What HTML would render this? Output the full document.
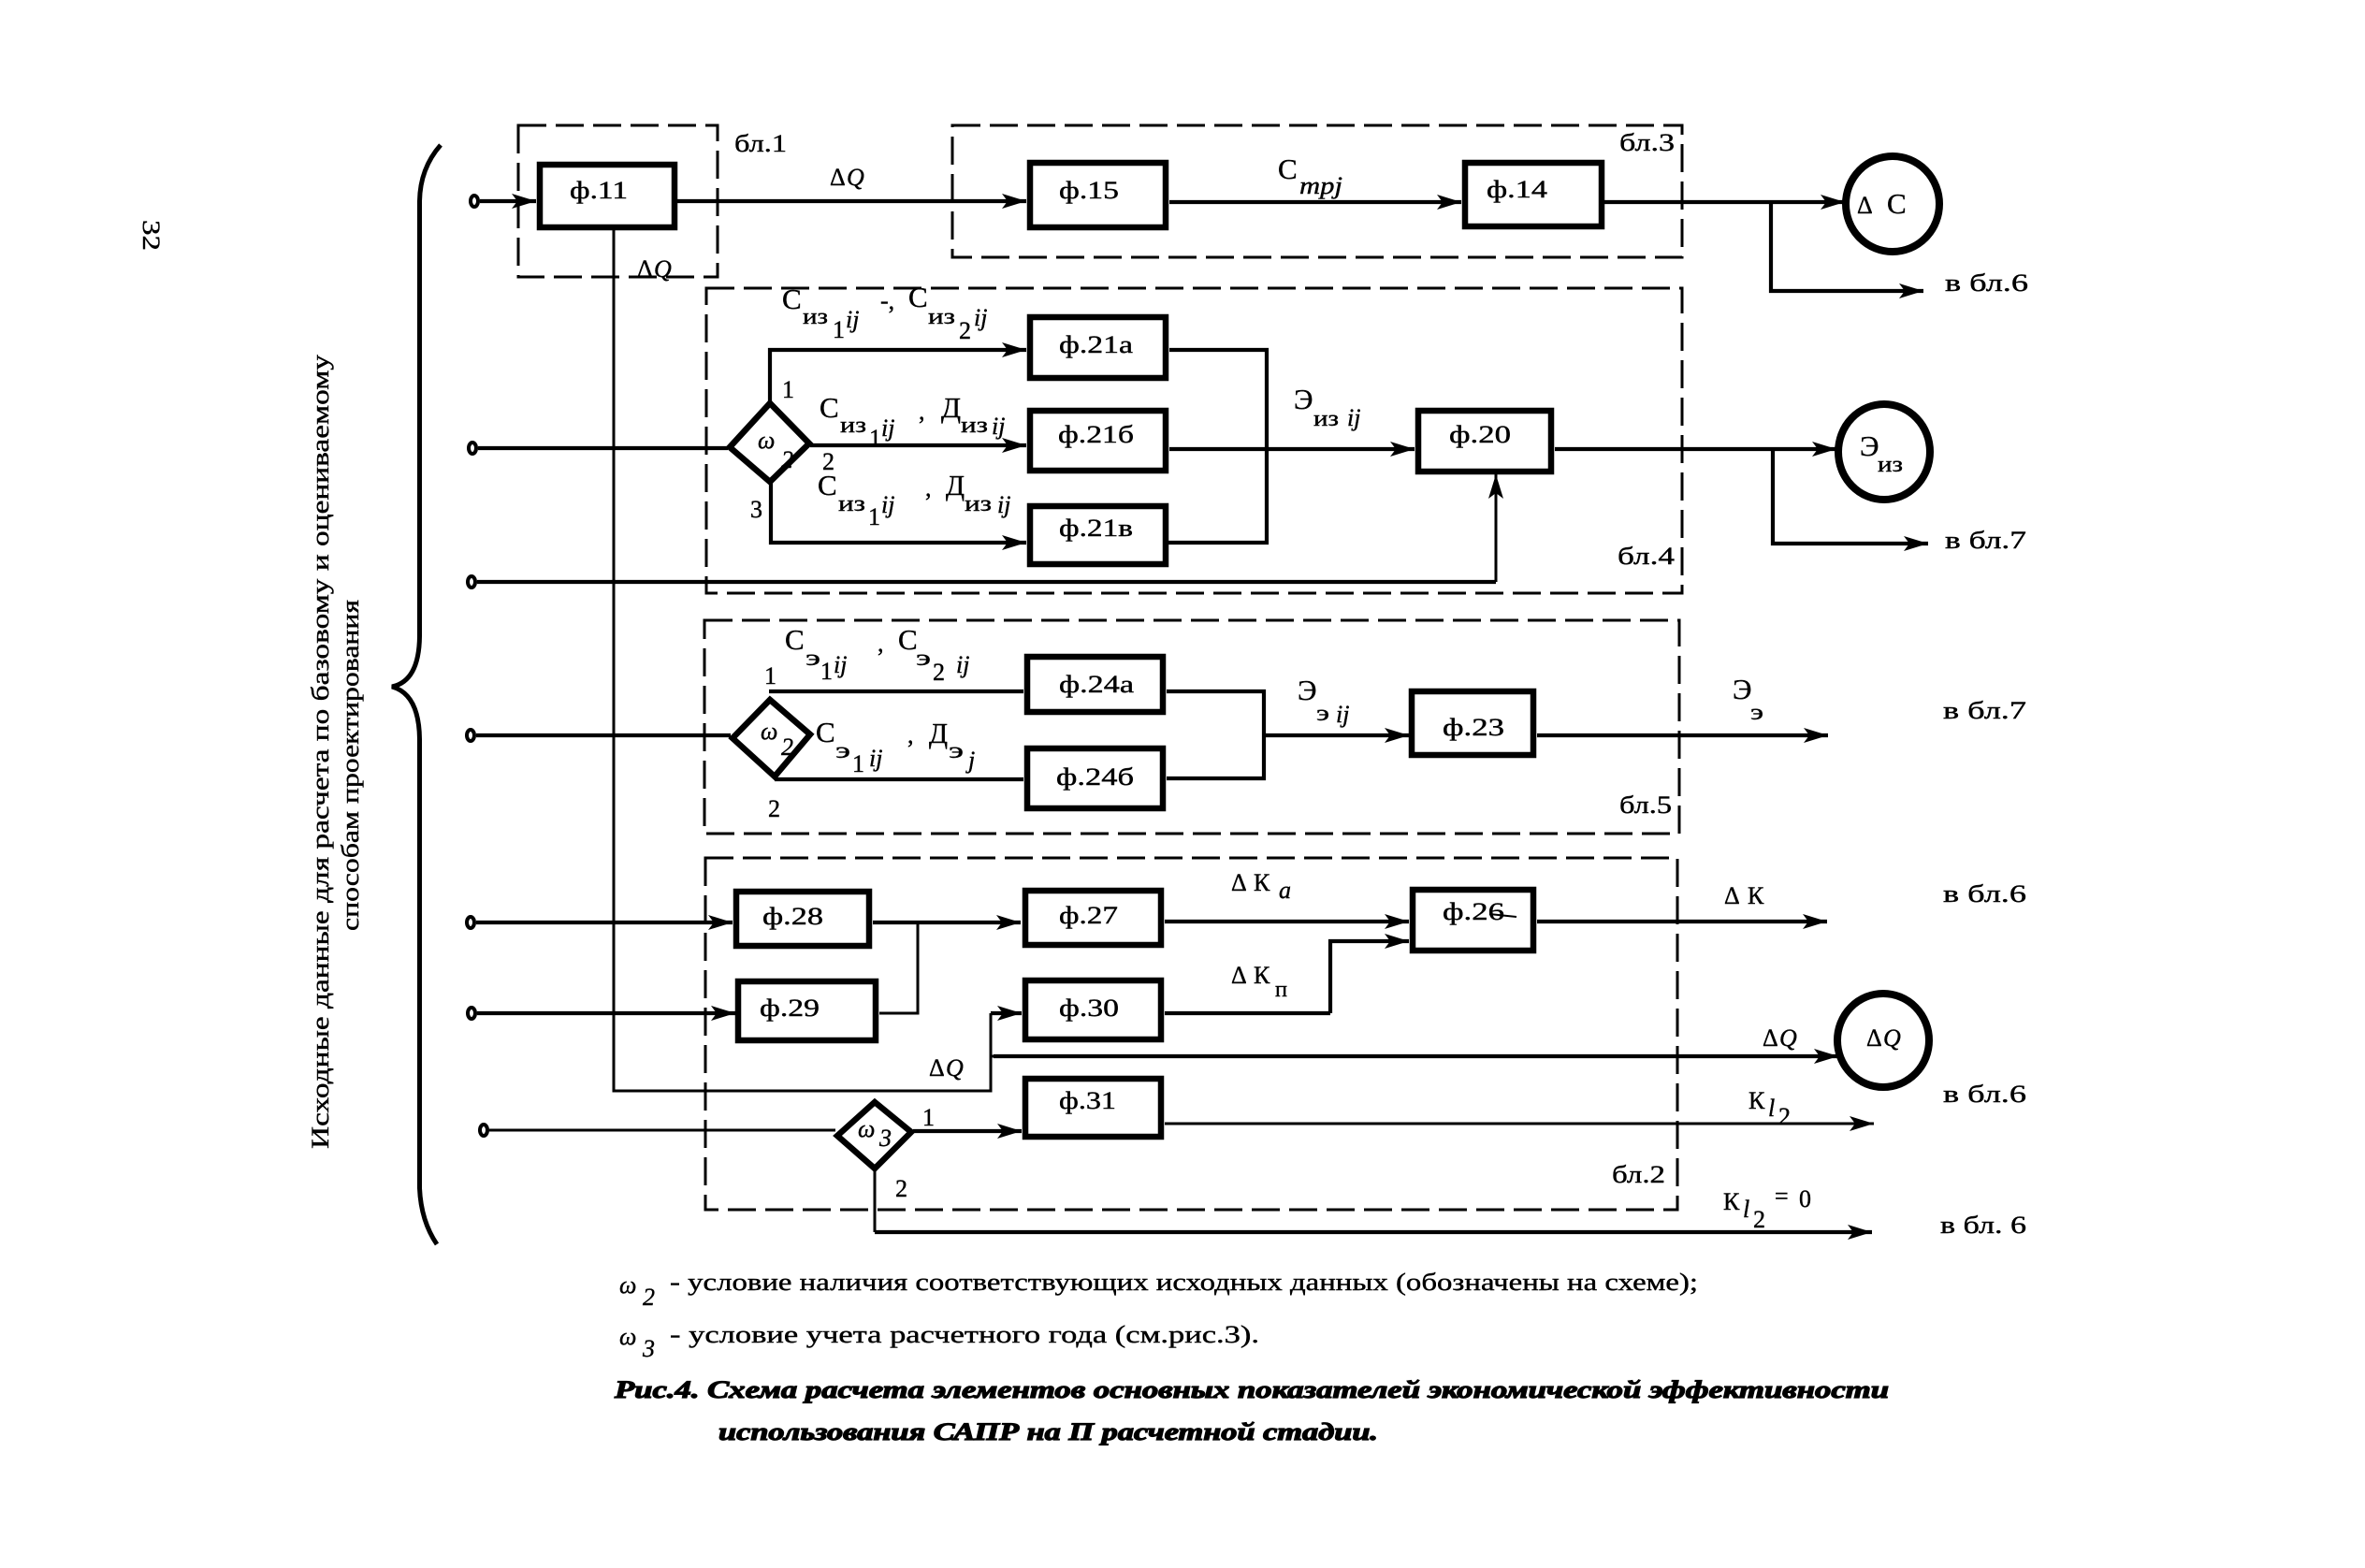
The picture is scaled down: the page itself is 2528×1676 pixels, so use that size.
<!DOCTYPE html>
<html><head><meta charset="utf-8"><style>
html,body{margin:0;padding:0;background:#fff}
svg{display:block}
text{font-family:"Liberation Serif","Noto Serif CJK SC",serif;fill:#000;font-size:26px;stroke:#000;stroke-width:.4}
.i{font-style:italic}
.s{font-size:24px}
.m{font-size:31px}
.d{fill:none;stroke:#000;stroke-width:3;stroke-dasharray:30 10}
.l{fill:none;stroke:#000;stroke-width:4.2}
.t{fill:none;stroke:#000;stroke-width:3}
.a{marker-end:url(#a)}
.b{fill:#fff;stroke:#000;stroke-width:6.5}
.c{fill:#fff;stroke:#000;stroke-width:8}
.p{fill:#fff;stroke:#000;stroke-width:4}
</style></head><body>
<svg width="2528" height="1676" viewBox="0 0 2528 1676" xmlns="http://www.w3.org/2000/svg">
<defs><marker id="a" markerWidth="30" markerHeight="20" refX="28" refY="10" orient="auto" markerUnits="userSpaceOnUse"><path d="M28 10 L2 2 L8 10 L2 18z" fill="#000"/></marker></defs>
<rect width="2528" height="1676" fill="#fff"/>

<!-- dashed blocks -->
<rect class="d" x="554" y="134" width="213" height="162"/>
<rect class="d" x="1018" y="134" width="780" height="141"/>
<rect class="d" x="755" y="308" width="1043" height="326"/>
<rect class="d" x="753" y="663" width="1042" height="228"/>
<rect class="d" x="754" y="917" width="1039" height="376"/>
<path class="t" d="M1226 471H1240M1234 465L1240 471L1234 477"/>

<!-- brace -->
<path d="M471 155Q449 180 448.500 215V680Q448 728 419 734Q448 742 448.500 790V1270Q450 1305 467 1330" fill="none" stroke="#000" stroke-width="5"/>

<!-- connectors -->
<path class="l a" d="M513 215H573"/>
<path class="l a" d="M724 215H1097"/>
<path class="l a" d="M1250 216H1562"/>
<path class="l a" d="M1715 216H1972"/>
<path class="l a" d="M1893 216V311H2056"/>
<path class="t" d="M656 246V1166H1059V1083"/>
<path class="l a" d="M1059 1083H1092"/>
<path class="t" d="M1059 1129H1200"/>
<path class="l a" d="M1062 1129H1965"/>

<path class="l" d="M511 479H778"/>
<path class="l a" d="M823 430V374H1097"/>
<path class="l a" d="M866 476H1097"/>
<path class="l a" d="M824 515V580H1097"/>
<path class="l" d="M1250 374H1354V580H1248"/>
<path class="l a" d="M1250 480H1512"/>
<path class="l a" d="M1662 480H1963"/>
<path class="l a" d="M1895 480V581H2061"/>
<path class="l" d="M510 622H1599"/>
<path class="t a" d="M1599 622V507"/>

<path class="l" d="M509 786H781"/>
<path class="l" d="M822 739H1094"/>
<path class="l" d="M828 833H1094"/>
<path class="l" d="M1247 739H1351V832H1247"/>
<path class="l a" d="M1351 786H1506"/>
<path class="l a" d="M1643 786H1954"/>

<path class="l a" d="M509 986H783"/>
<path class="l a" d="M510 1083H786"/>
<path class="l a" d="M933 986H1091"/>
<path class="t" d="M981 986V1083H940"/>
<path class="l a" d="M1245 985H1506"/>
<path class="l" d="M1245 1083H1422"/>
<path class="l a" d="M1422 1083V1006H1506"/>
<path class="l a" d="M1643 985H1953"/>
<path class="t a" d="M1245 1201H2003"/>
<path class="t" d="M523 1208H893"/>
<path class="l a" d="M976 1209H1092"/>
<path class="t" d="M935 1252V1317"/>
<path class="l a" d="M935 1317H2001"/>

<!-- inputs -->
<ellipse class="p" cx="507" cy="215" rx="4" ry="6"/>
<ellipse class="p" cx="505" cy="479" rx="4" ry="6"/>
<ellipse class="p" cx="504" cy="622" rx="4" ry="6"/>
<ellipse class="p" cx="503" cy="786" rx="4" ry="6"/>
<ellipse class="p" cx="503" cy="986" rx="4" ry="6"/>
<ellipse class="p" cx="504" cy="1083" rx="4" ry="6"/>
<ellipse class="p" cx="517" cy="1208" rx="4" ry="6"/>

<!-- boxes -->
<rect class="b" x="577" y="176" width="144" height="67"/>
<rect class="b" x="1101" y="174" width="145" height="69"/>
<rect class="b" x="1566" y="174" width="146" height="68"/>
<rect class="b" x="1101" y="339" width="145" height="65"/>
<rect class="b" x="1101" y="439" width="145" height="64"/>
<rect class="b" x="1101" y="541" width="145" height="62"/>
<rect class="b" x="1516" y="439" width="142" height="65"/>
<rect class="b" x="1098" y="702" width="145" height="59"/>
<rect class="b" x="1098" y="800" width="145" height="64"/>
<rect class="b" x="1509" y="739" width="130" height="68"/>
<rect class="b" x="787" y="953" width="142" height="58"/>
<rect class="b" x="789" y="1049" width="147" height="63"/>
<rect class="b" x="1096" y="952" width="145" height="58"/>
<rect class="b" x="1096" y="1048" width="145" height="63"/>
<rect class="b" x="1096" y="1153" width="145" height="62"/>
<rect class="b" x="1510" y="951" width="129" height="65"/>

<!-- diamonds -->
<polygon class="b" points="780,478 823,431 865,474 823,515"/>
<polygon class="b" points="783,789 823,748 866,785 828,830"/>
<polygon class="b" points="895,1214 935,1178 974,1210 935,1249"/>

<!-- circles -->
<ellipse class="c" cx="2023" cy="218" rx="50" ry="51"/>
<ellipse class="c" cx="2014" cy="483" rx="49" ry="51"/>
<ellipse class="c" cx="2013" cy="1112" rx="49" ry="50"/>

<path d="M1592 977L1621 980" fill="none" stroke="#000" stroke-width="2"/>

<!-- box labels -->
<text x="609" y="212" textLength="62" lengthAdjust="spacingAndGlyphs">ф.11</text>
<text x="1132" y="212" textLength="64" lengthAdjust="spacingAndGlyphs">ф.15</text>
<text x="1589" y="211" textLength="65" lengthAdjust="spacingAndGlyphs">ф.14</text>
<text x="1132" y="377" textLength="79" lengthAdjust="spacingAndGlyphs">ф.21а</text>
<text x="1131" y="473" textLength="81" lengthAdjust="spacingAndGlyphs">ф.21б</text>
<text x="1132" y="573" textLength="79" lengthAdjust="spacingAndGlyphs">ф.21в</text>
<text x="1549" y="473" textLength="66" lengthAdjust="spacingAndGlyphs">ф.20</text>
<text x="1132" y="740" textLength="80" lengthAdjust="spacingAndGlyphs">ф.24а</text>
<text x="1129" y="839" textLength="83" lengthAdjust="spacingAndGlyphs">ф.24б</text>
<text x="1542" y="786" textLength="66" lengthAdjust="spacingAndGlyphs">ф.23</text>
<text x="815" y="988" textLength="65" lengthAdjust="spacingAndGlyphs">ф.28</text>
<text x="812" y="1086" textLength="64" lengthAdjust="spacingAndGlyphs">ф.29</text>
<text x="1132" y="987" textLength="63" lengthAdjust="spacingAndGlyphs">ф.27</text>
<text x="1132" y="1086" textLength="64" lengthAdjust="spacingAndGlyphs">ф.30</text>
<text x="1132" y="1185" textLength="61" lengthAdjust="spacingAndGlyphs">ф.31</text>
<text x="1542" y="983" textLength="66" lengthAdjust="spacingAndGlyphs">ф.26</text>

<!-- block labels -->
<text x="785" y="162" textLength="56" lengthAdjust="spacingAndGlyphs">бл.1</text>
<text x="1731" y="161" textLength="59" lengthAdjust="spacingAndGlyphs">бл.3</text>
<text x="1729" y="603" textLength="61" lengthAdjust="spacingAndGlyphs">бл.4</text>
<text x="1731" y="869" textLength="56" lengthAdjust="spacingAndGlyphs">бл.5</text>
<text x="1723" y="1264" textLength="57" lengthAdjust="spacingAndGlyphs">бл.2</text>

<!-- delta Q -->
<text x="887" y="198" font-size="31">Δ</text><text class="i" x="905" y="198" font-size="31">Q</text>
<text x="681" y="296" font-size="31">Δ</text><text class="i" x="699" y="296" font-size="31">Q</text>
<text x="993" y="1150" font-size="31">Δ</text><text class="i" x="1011" y="1150" font-size="31">Q</text>
<text x="1884" y="1118" font-size="31">Δ</text><text class="i" x="1902" y="1118" font-size="31">Q</text>
<text x="1995" y="1118" font-size="31">Δ</text><text class="i" x="2013" y="1118" font-size="31">Q</text>

<!-- С_тр -->
<text class="m" x="1366" y="191">С</text><text class="i" x="1389" y="207" font-size="28" textLength="46" lengthAdjust="spacingAndGlyphs">mpj</text>
<text x="1985" y="228" font-size="28">Δ</text><text class="m" x="2017" y="228">С</text>

<!-- row 1 -->
<text class="m" x="836" y="330">С</text><text class="s" x="858" y="346" textLength="27" lengthAdjust="spacingAndGlyphs">из</text><text x="890" y="361">1</text><text class="i" x="904" y="350" font-size="28">ij</text>
<text x="941" y="330">-,</text>
<text class="m" x="971" y="328">С</text><text class="s" x="992" y="346" textLength="29" lengthAdjust="spacingAndGlyphs">из</text><text x="1025" y="362">2</text><text class="i" x="1041" y="348" font-size="28">ij</text>
<text x="836" y="425">1</text>
<text class="i" x="810" y="479" font-size="26">ω</text><text class="i" x="835" y="500">2</text>
<text x="879" y="502">2</text>
<text x="802" y="553">3</text>
<!-- row 2 -->
<text class="m" x="876" y="446">С</text><text class="s" x="898" y="462" textLength="28" lengthAdjust="spacingAndGlyphs">из</text><text x="929" y="477">1</text><text class="i" x="942" y="466" font-size="28">ij</text>
<text x="982" y="448">,</text>
<text class="m" x="1006" y="446" textLength="21" lengthAdjust="spacingAndGlyphs">Д</text><text class="s" x="1027" y="462" textLength="29" lengthAdjust="spacingAndGlyphs">из</text><text class="i" x="1060" y="464" font-size="28">ij</text>
<!-- row 3 -->
<text class="m" x="874" y="529">С</text><text class="s" x="896" y="546" textLength="29" lengthAdjust="spacingAndGlyphs">из</text><text x="928" y="561">1</text><text class="i" x="942" y="548" font-size="28">ij</text>
<text x="989" y="530">,</text>
<text class="m" x="1011" y="529" textLength="20" lengthAdjust="spacingAndGlyphs">Д</text><text class="s" x="1031" y="546" textLength="29" lengthAdjust="spacingAndGlyphs">из</text><text class="i" x="1066" y="548" font-size="28">ij</text>

<text class="m" x="1383" y="437">Э</text><text class="s" x="1404" y="455" textLength="27" lengthAdjust="spacingAndGlyphs">из</text><text class="i" x="1440" y="455" font-size="28">ij</text>
<text class="m" x="1988" y="487">Э</text><text class="s" x="2007" y="504" textLength="27" lengthAdjust="spacingAndGlyphs">из</text>

<!-- block 5 labels -->
<text class="m" x="839" y="694">С</text><text class="s" x="861" y="711" textLength="16" lengthAdjust="spacingAndGlyphs">э</text><text x="877" y="726">1</text><text class="i" x="891" y="719" font-size="28">ij</text>
<text x="938" y="696">,</text>
<text class="m" x="960" y="694">С</text><text class="s" x="979" y="711" textLength="16" lengthAdjust="spacingAndGlyphs">э</text><text x="997" y="727">2</text><text class="i" x="1022" y="719" font-size="28">ij</text>
<text x="817" y="731">1</text>
<text class="i" x="813" y="790" font-size="26">ω</text><text class="i" x="835" y="807">2</text>
<text class="m" x="872" y="793">С</text><text class="s" x="893" y="810" textLength="16" lengthAdjust="spacingAndGlyphs">э</text><text x="911" y="825">1</text><text class="i" x="929" y="819" font-size="28">ij</text>
<text x="970" y="794">,</text>
<text class="m" x="993" y="794" textLength="20" lengthAdjust="spacingAndGlyphs">Д</text><text class="s" x="1014" y="810" textLength="16" lengthAdjust="spacingAndGlyphs">э</text><text class="i" x="1035" y="821" font-size="28">j</text>
<text x="821" y="873">2</text>
<text class="m" x="1387" y="748">Э</text><text class="s" x="1407" y="770" textLength="14" lengthAdjust="spacingAndGlyphs">э</text><text class="i" x="1428" y="772" font-size="28">ij</text>
<text class="m" x="1852" y="747">Э</text><text class="s" x="1871" y="769" textLength="14" lengthAdjust="spacingAndGlyphs">э</text>

<!-- block 2 labels -->
<text x="1316" y="952" font-size="29">Δ</text><text x="1340" y="952" font-size="28">К</text><text class="i" x="1367" y="960" font-size="30">a</text>
<text x="1316" y="1051" font-size="29">Δ</text><text x="1340" y="1051" font-size="28">К</text><text class="s" x="1363" y="1065" textLength="13" lengthAdjust="spacingAndGlyphs">п</text>
<text x="1843" y="966" font-size="29">Δ</text><text x="1868" y="966" font-size="28">К</text>
<text class="i" x="917" y="1215" font-size="26">ω</text><text class="i" x="940" y="1225">3</text>
<text x="986" y="1203">1</text>
<text x="957" y="1279">2</text>
<text x="1869" y="1185" font-size="28">К</text><text class="i" x="1890" y="1193" font-size="28">l</text><text x="1901" y="1202">2</text>
<text x="1842" y="1293" font-size="28">К</text><text class="i" x="1863" y="1301" font-size="28">l</text><text x="1874" y="1312">2</text><text x="1897" y="1287">=</text><text x="1923" y="1290">0</text>

<!-- outgoing labels -->
<text x="2079" y="311" font-size="28" textLength="89" lengthAdjust="spacingAndGlyphs">в бл.6</text>
<text x="2079" y="586" font-size="28" textLength="87" lengthAdjust="spacingAndGlyphs">в бл.7</text>
<text x="2077" y="768" font-size="28" textLength="89" lengthAdjust="spacingAndGlyphs">в бл.7</text>
<text x="2077" y="964" font-size="28" textLength="89" lengthAdjust="spacingAndGlyphs">в бл.6</text>
<text x="2077" y="1178" font-size="28" textLength="89" lengthAdjust="spacingAndGlyphs">в бл.6</text>
<text x="2074" y="1318" font-size="28" textLength="92" lengthAdjust="spacingAndGlyphs">в бл. 6</text>

<!-- vertical -->
<text transform="translate(351 1228) rotate(-90)" font-size="31" textLength="849" lengthAdjust="spacingAndGlyphs">Исходные данные для расчета по базовому и оцениваемому</text>
<text transform="translate(383 995) rotate(-90)" font-size="31" textLength="354" lengthAdjust="spacingAndGlyphs">способам проектирования</text>
<text transform="translate(153 235) rotate(90)" font-size="42" textLength="33" lengthAdjust="spacingAndGlyphs">32</text>

<!-- notes -->
<text class="i" x="662" y="1382" font-size="26">ω</text><text class="i" x="687" y="1395">2</text>
<text x="716" y="1379" font-size="29" textLength="1099" lengthAdjust="spacingAndGlyphs">- условие наличия соответствующих исходных данных (обозначены на схеме);</text>
<text class="i" x="662" y="1437" font-size="26">ω</text><text class="i" x="687" y="1450">3</text>
<text x="716" y="1435" font-size="29" textLength="630" lengthAdjust="spacingAndGlyphs">- условие учета расчетного года (см.рис.3).</text>

<text class="i" x="657" y="1494" font-size="40" font-weight="bold" stroke-width="1.2" style="stroke-width:1.2" textLength="1362" lengthAdjust="spacingAndGlyphs">Рис.4. Схема расчета элементов основных показателей экономической эффективности</text>
<text class="i" x="768" y="1539" font-size="40" font-weight="bold" style="stroke-width:1.2" textLength="705" lengthAdjust="spacingAndGlyphs">использования САПР на П расчетной стадии.</text>
</svg>
</body></html>
